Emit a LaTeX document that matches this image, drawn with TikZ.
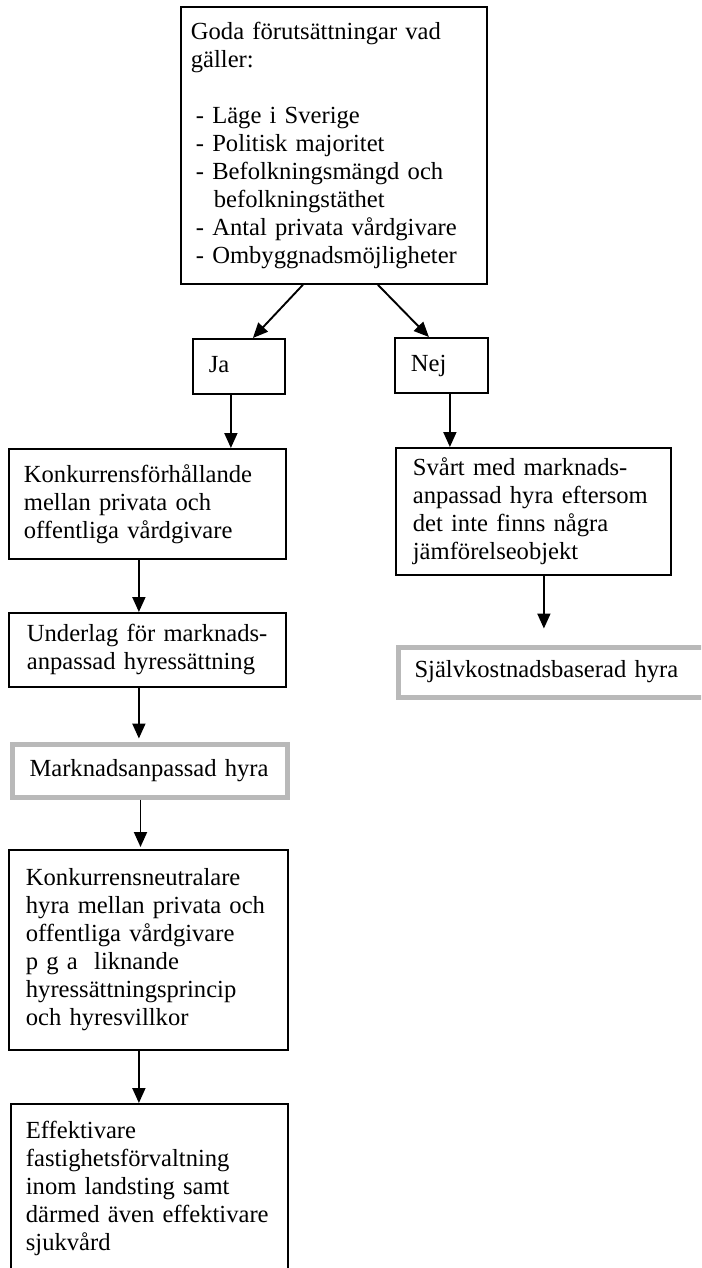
\documentclass[tikz,border=0pt]{standalone}
\usepackage{fontspec}
\setmainfont{Liberation Serif}
\usepackage{tikz}
\usetikzlibrary{arrows.meta,positioning}
\tikzstyle{line} = [draw, line width=0.95pt, -{Triangle[length=7.5pt,width=6.5pt]}]
\tikzset{
    every node/.style={font=\fontsize{12.3}{14}\selectfont}
}

\begin{document}
\begin{tikzpicture}[x=0.5pt,y=-0.5pt]
    % Styles for the boxes
    \tikzstyle{box} = [draw, line width=0.9pt, anchor=north west, align=left, inner ysep=0pt]
    \tikzstyle{graybox} = [box, draw=gray!55, line width=2.5pt]

    % Page size
    \useasboundingbox (0,0) rectangle (701,1268);
    \fill[white] (0,0) rectangle (701,1268);
    \clip (0,0) rectangle (701,1268);

    % Starting conditions
    \node[box, minimum width=153pt, minimum height=138.5pt, inner xsep=5pt, text width=143pt]
        (goda) at (180,6) {Goda förutsättningar vad\\
        gäller:\\[14pt]
        \hspace*{2.5pt}- Läge i Sverige\\
        \hspace*{2.5pt}- Politisk majoritet\\
        \hspace*{2.5pt}- Befolkningsmängd och\\
        \hspace*{11.5pt}befolkningstäthet\\
        \hspace*{2.5pt}- Antal privata vårdgivare\\
        \hspace*{2.5pt}- Ombyggnadsmöjligheter};

    % Yes / no
    \node[box, minimum width=46pt, minimum height=27.5pt, inner xsep=8pt, text width=30pt]
        (ja) at (192,338) {\strut Ja};
    \node[box, minimum width=46.5pt, minimum height=27.5pt, inner xsep=8pt, text width=30.5pt]
        (nej) at (394,337) {\strut Nej};

    % Left column
    \node[box, minimum width=138.5pt, minimum height=55pt, inner xsep=7.5pt, text width=123.5pt]
        (konk) at (8,448) {Konkurrensförhållande\\
        mellan privata och\\
        offentliga vårdgivare};
    \node[box, minimum width=138.5pt, minimum height=37pt, inner xsep=9pt, text width=120.5pt]
        (underlag) at (8,612) {Underlag för marknads-\\
        anpassad hyressättning};
    \node[graybox, minimum width=137.5pt, minimum height=26.5pt, inner xsep=8.75pt, text width=120pt]
        (markn) at (9.5,741.5) {Marknadsanpassad hyra};
    \node[box, minimum width=139.5pt, minimum height=100pt, inner xsep=8.5pt, text width=122.5pt]
        (neutral) at (8,849) {Konkurrensneutralare\\
        hyra mellan privata och\\
        offentliga vårdgivare\\
        p g a\ \ liknande\\
        hyressättningsprincip\\
        och hyresvillkor};
    \node[box, minimum width=138.5pt, minimum height=84.5pt, inner xsep=7.5pt, text width=123.5pt]
        (effekt) at (10,1103) {Effektivare\\
        fastighetsförvaltning\\
        inom landsting samt\\
        därmed även effektivare\\
        sjukvård};

    % Right column
    \node[box, minimum width=137.5pt, minimum height=63.5pt, inner xsep=8.5pt, text width=120.5pt]
        (svart) at (395,447) {Svårt med marknads-\\
        anpassad hyra eftersom\\
        det inte finns några\\
        jämförelseobjekt};
    \node[graybox, minimum width=162.25pt, minimum height=25pt, inner xsep=8.25pt, text width=145.75pt]
        (sjalv) at (395.5,644.5) {Självkostnadsbaserad hyra};

    % Connectors
    \draw[line] ([xshift=-15.5pt]goda.south) -- ([xshift=7pt]ja.north);
    \draw[line] ([xshift=22pt]goda.south) -- ([xshift=-6.25pt]nej.north);
    \draw[line] ([xshift=-4pt]ja.south) -- ([xshift=-4pt]ja.south |- konk.north);
    \draw[line] ([xshift=4.25pt]nej.south) -- ([xshift=4.25pt]nej.south |- svart.north);
    \draw[line] ([xshift=-4.25pt]konk.south) -- ([xshift=-4.25pt]konk.south |- underlag.north);
    \draw[line, shorten >=1.5pt] ([xshift=-4.25pt]underlag.south) -- ([xshift=-4.25pt]underlag.south |- markn.north);
    \draw[line, shorten >=1pt] ([xshift=-4.5pt]markn.south) -- ([xshift=-4.5pt]markn.south |- neutral.north);
    \draw[line] ([xshift=-4.75pt]neutral.south) -- ([xshift=-4.75pt]neutral.south |- effekt.north);
    \draw[line, shorten >=8pt] ([xshift=5.25pt]svart.south) -- ([xshift=5.25pt]svart.south |- sjalv.north);
\end{tikzpicture}
\end{document}
